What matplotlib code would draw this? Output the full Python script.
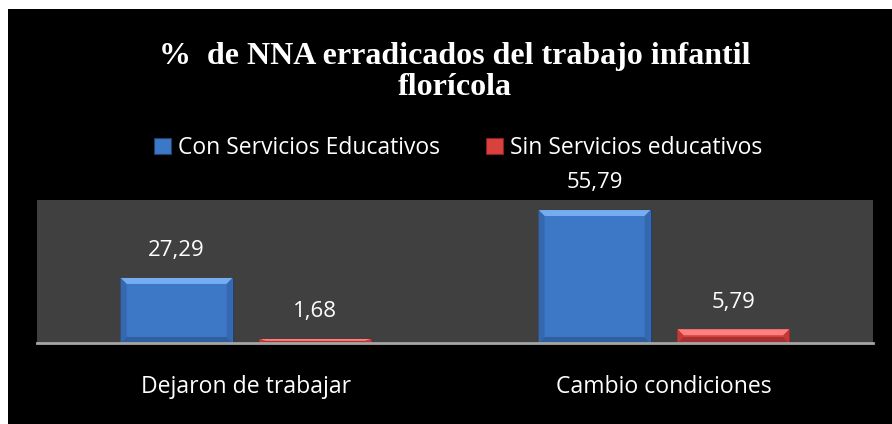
import numpy as np
import matplotlib
matplotlib.use('Agg')
import matplotlib.pyplot as plt
from matplotlib.patches import Polygon, Rectangle

categorias = ['Dejaron de trabajar', 'Cambio condiciones']
con_servicios = [27.29, 55.79]
sin_servicios = [1.68, 5.79]
series = ['Con Servicios Educativos', 'Sin Servicios educativos']
etiquetas_con = ['27,29', '55,79']
etiquetas_sin = ['1,68', '5,79']

fig = plt.figure(figsize=(8.92, 4.24), dpi=100)
fig.patch.set_facecolor('white')
# black chart area with thin white margin top / left
fig.add_artist(Rectangle((8/892, 0), 1, 1 - 9/424, transform=fig.transFigure,
                         facecolor='black', edgecolor='none', zorder=0))

ax = fig.add_axes([37/892, 81/424, 836/892, 143/424])
ax.set_facecolor('#404040')

x = np.arange(len(categorias))
w = 0.268
off = 0.166
ymax = 60

def bevel_bars(bars, light, dark, side):
    bx = 6/418.0
    by = 6/(143.0/ymax)
    for b in bars:
        x0, y0 = b.get_x(), b.get_y()
        bw, bh = b.get_width(), b.get_height()
        dy = min(by, bh*0.45)
        dx = min(bx, bw*0.45)
        top = [(x0, y0+bh), (x0+bw, y0+bh), (x0+bw-dx, y0+bh-dy), (x0+dx, y0+bh-dy)]
        bot = [(x0, y0), (x0+bw, y0), (x0+bw-dx, y0+dy), (x0+dx, y0+dy)]
        lft = [(x0, y0), (x0, y0+bh), (x0+dx, y0+bh-dy), (x0+dx, y0+dy)]
        rgt = [(x0+bw, y0), (x0+bw, y0+bh), (x0+bw-dx, y0+bh-dy), (x0+bw-dx, y0+dy)]
        for pts, c in [(top, light), (bot, dark), (lft, side), (rgt, side)]:
            ax.add_patch(Polygon(pts, closed=True, facecolor=c, edgecolor='none', zorder=3))

b1 = ax.bar(x - off, con_servicios, w, color='#3C78C6', edgecolor='#1F3F6E',
            linewidth=0.8, zorder=2, label=series[0])
b2 = ax.bar(x + off, sin_servicios, w, color='#D9413E', edgecolor='#8A2020',
            linewidth=0.8, zorder=2, label=series[1])
bevel_bars(b1, '#74AEF0', '#2F5F9F', '#3568AE')
bevel_bars(b2, '#FF8080', '#A83030', '#C23A38')

txt_font = ['Open Sans', 'DejaVu Sans']
for b, t in zip(list(b1) + list(b2), etiquetas_con + etiquetas_sin):
    ax.annotate(t, (b.get_x() + b.get_width()/2, b.get_height()), xytext=(0, 12),
                textcoords='offset points', ha='center', va='bottom',
                color='white', fontsize=16, family=txt_font)

ax.set_xlim(-0.5, 1.5)
ax.set_ylim(0, ymax)
ax.set_yticks([])
ax.set_xticks(x)
ax.set_xticklabels(categorias, color='white', fontsize=16.6, family=txt_font)
ax.tick_params(axis='x', length=0, pad=23)
for s in ['top', 'left', 'right']:
    ax.spines[s].set_visible(False)
ax.spines['bottom'].set_color('#A6A6A6')
ax.spines['bottom'].set_linewidth(2)
ax.spines['bottom'].set_zorder(4)

fig.text(455/892, 1 - 72/424, '%  de NNA erradicados del trabajo infantil\nflorícola',
         ha='center', va='center', color='white', fontsize=23, fontweight='bold',
         family=['Liberation Serif', 'DejaVu Serif'], linespacing=1.12)

leg = fig.legend(handles=[b1, b2], labels=series, loc='center',
                 bbox_to_anchor=(458/892, 1 - 148/424), ncol=2, frameon=False,
                 prop={'family': 'Open Sans', 'size': 16.5}, handlelength=0.75,
                 handleheight=0.75, handletextpad=0.3, columnspacing=2.0)
for t in leg.get_texts():
    t.set_color('white')

fig.savefig('out.png', dpi=100, facecolor=fig.get_facecolor())
